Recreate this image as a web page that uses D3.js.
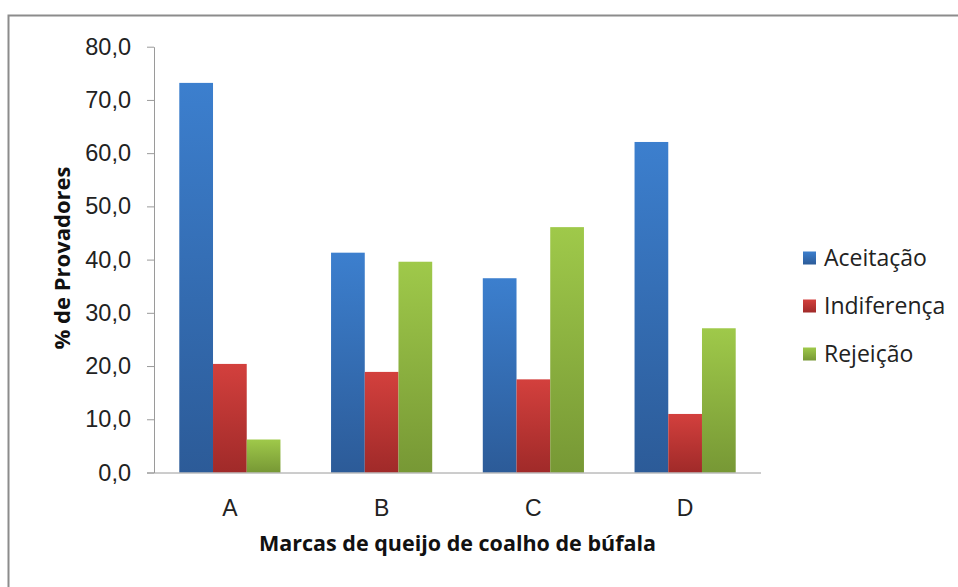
<!DOCTYPE html>
<html>
<head>
<meta charset="utf-8">
<script src="https://cdn.jsdelivr.net/npm/d3@7"></script>
<style>
  body { margin: 0; background: #fff; }
  svg { font-family: 'Open Sans', sans-serif; }
</style>
</head>
<body>
<div id="chart"></div>
<script>
const brands = ['A', 'B', 'C', 'D']
const seriesNames = ['Aceitação', 'Indiferença', 'Rejeição']
const aceitacao = [73.2, 41.3, 36.5, 62.1]
const indiferenca = [20.4, 18.9, 17.5, 11.0]
const rejeicao = [6.2, 39.6, 46.1, 27.1]
const yTicks = [0, 10, 20, 30, 40, 50, 60, 70, 80]

const colors = {
  'Aceitação': ['#3c7fce', '#2c5b98'],
  'Indiferença': ['#d3403d', '#a02a29'],
  'Rejeição': ['#9fc94a', '#779835']
}

const width = 958
const height = 587
const margin = { top: 46.7, left: 154, right: 197, bottom: 114.5 }
const plotRight = width - margin.right

const svg = d3
  .select('#chart')
  .append('svg')
  .attr('width', width)
  .attr('height', height)

// outer frame (only top and left show)
svg
  .append('rect')
  .attr('x', 8.5)
  .attr('y', 15.5)
  .attr('width', 1000)
  .attr('height', 1000)
  .attr('fill', 'none')
  .attr('stroke', '#8c8c8c')
  .attr('stroke-width', 2)

const defs = svg.append('defs')
seriesNames.forEach((s, i) => {
  const grad = defs
    .append('linearGradient')
    .attr('id', 'grad' + i)
    .attr('x1', 0).attr('y1', 0)
    .attr('x2', 0).attr('y2', 1)
  grad.append('stop').attr('offset', '0%').attr('stop-color', colors[s][0])
  grad.append('stop').attr('offset', '100%').attr('stop-color', colors[s][1])
})

const data = brands.map((b, i) => ({
  brand: b,
  values: [aceitacao[i], indiferenca[i], rejeicao[i]]
}))

const x0 = d3
  .scaleBand()
  .domain(brands)
  .range([margin.left, plotRight])
  .paddingInner(1.5 / 4.5)
  .paddingOuter(0.75 / 4.5)

const x1 = d3
  .scaleBand()
  .domain(d3.range(seriesNames.length))
  .range([0, x0.bandwidth()])

const y = d3
  .scaleLinear()
  .domain([0, 80])
  .range([height - margin.bottom, margin.top])

// y axis
const yAxis = svg
  .append('g')
  .attr('transform', `translate(${margin.left},0)`)
  .call(
    d3.axisLeft(y)
      .tickValues(yTicks)
      .tickSize(7)
      .tickSizeOuter(0)
      .tickPadding(16)
      .tickFormat(d => d3.format('.1f')(d).replace('.', ','))
  )
yAxis.select('.domain').attr('stroke', '#9a9a9a')
yAxis.selectAll('.tick line').attr('stroke', '#9a9a9a')
yAxis
  .selectAll('.tick text')
  .attr('fill', '#222')
  .style('font-size', '23.5px')

// bars
const groups = svg
  .selectAll('.brand')
  .data(data)
  .enter()
  .append('g')
  .attr('class', 'brand')
  .attr('transform', d => `translate(${x0(d.brand)},0)`)

groups
  .selectAll('rect')
  .data(d => d.values)
  .enter()
  .append('rect')
  .attr('x', (d, i) => x1(i))
  .attr('y', d => y(d))
  .attr('width', x1.bandwidth())
  .attr('height', d => y(0) - y(d))
  .attr('fill', (d, i) => `url(#grad${i})`)

// x axis
const xAxis = svg
  .append('g')
  .attr('transform', `translate(0,${y(0)})`)
  .call(d3.axisBottom(x0).tickSize(0).tickSizeOuter(0).tickPadding(27))
xAxis
  .select('.domain')
  .attr('stroke', '#9a9a9a')
  .attr('d', `M${margin.left - 7},0.5H${plotRight}`)
xAxis
  .selectAll('.tick text')
  .attr('fill', '#222')
  .style('font-size', '23px')

// axis titles
svg
  .append('text')
  .attr('x', (margin.left + plotRight) / 2)
  .attr('y', 551)
  .attr('text-anchor', 'middle')
  .style('font-size', '21.5px')
  .style('font-weight', 700)
  .attr('fill', '#111')
  .text('Marcas de queijo de coalho de búfala')

svg
  .append('text')
  .attr('transform', 'translate(70,258) rotate(-90)')
  .attr('text-anchor', 'middle')
  .style('font-size', '22px')
  .style('font-weight', 700)
  .attr('fill', '#111')
  .text('% de Provadores')

// legend
const legend = svg
  .append('g')
  .attr('class', 'legend')
  .attr('transform', 'translate(803,258)')

legend
  .selectAll('.legend-row')
  .data(seriesNames)
  .enter()
  .append('g')
  .attr('class', 'legend-row')
  .attr('transform', (d, i) => `translate(0,${i * 48})`)
  .each(function(d, i) {
    const g = d3.select(this)
    g.append('rect')
      .attr('x', 0)
      .attr('y', -6.5)
      .attr('width', 13)
      .attr('height', 13)
      .attr('fill', `url(#grad${i})`)
    g.append('text')
      .attr('x', 21)
      .attr('dy', '0.36em')
      .attr('fill', '#222')
      .style('font-size', '23px')
      .text(d)
  })
</script>
</body>
</html>
